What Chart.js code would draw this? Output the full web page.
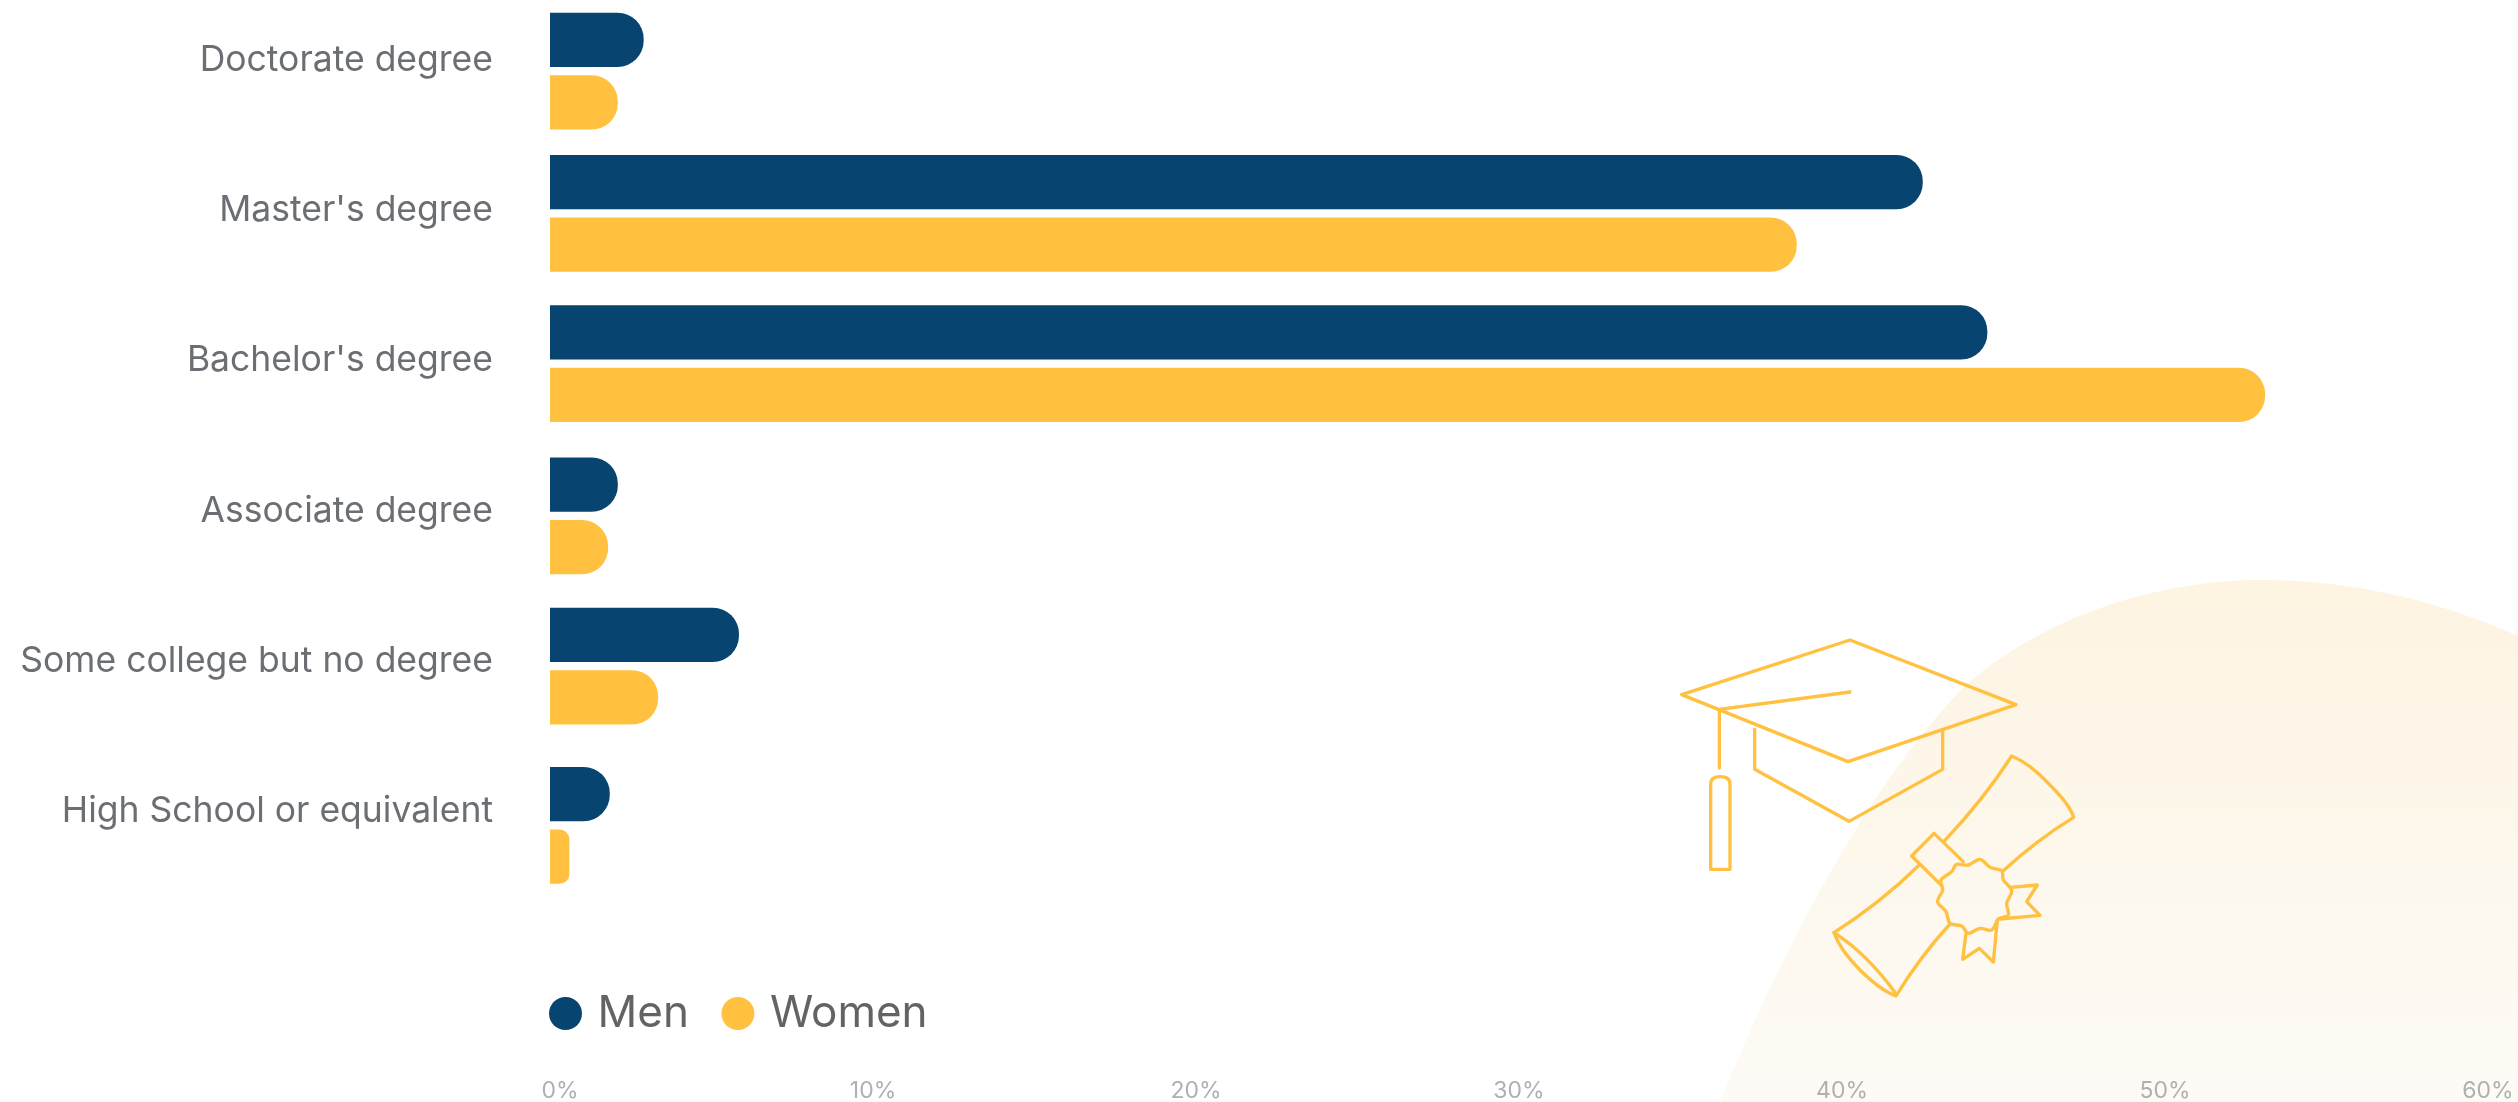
<!DOCTYPE html>
<html>
<head>
<meta charset="utf-8">
<title>Education level by gender</title>
<script src="https://cdn.jsdelivr.net/npm/chart.js@4"></script>
<style>
    html, body { margin: 0; padding: 0; background: #fff; overflow: hidden; }
    #wrap { width: 2518px; height: 1102px; }
</style>
</head>
<body>
<div id="wrap"><canvas id="degreeChart" width="2518" height="1102"></canvas></div>
<script>
const categories = ['Doctorate degree', "Master's degree", "Bachelor's degree", 'Associate degree', 'Some college but no degree', 'High School or equivalent'];
const men = [2.9, 42.5, 44.5, 2.1, 5.85, 1.85];
const women = [2.1, 38.6, 53.1, 1.8, 3.35, 0.6];
const xTicks = [0, 10, 20, 30, 40, 50, 60];

// rows are not evenly spaced, so each group gets a small shift from its slot
const rowShift = [-4, -12, -12, -10, -10, -1];

const navy = '#07446f';
const yellow = '#ffc13f';
const font = 'Inter, sans-serif';

// background hill, cap and diploma
const hill = new Path2D('M1720 1102 C1790 930 1880 770 1968 683 C2060 605 2180 578 2270 580 C2370 582 2450 606 2518 636 L2518 1102 Z');
const capPaths = [
    'M125 224 L630 60 L1128 254 L624 425 Z',
    'M630 216 L238 268 L238 444',
    'M344 328 L344 448 L627 604 L908 448 L908 330',
    'M212 748 L212 492 Q212 470 240 470 Q270 470 270 492 L270 748 Z'
];
const diplomaPaths = [
    'M912 664 Q1030 540 1115 408 Q1170 430 1230 495 Q1290 555 1301 592 Q1190 660 1090 752',
    'M838 735 Q720 850 582 938 Q600 990 660 1050 Q720 1110 768 1128 Q840 1010 930 912',
    'M582 938 Q680 1000 770 1124',
    'M970 725 L882 640 L815 708 L905 797',
    'M1112 802 L1192 795 L1160 845 L1200 886 L1080 897',
    'M978 940 L968 1018 L1018 985 L1060 1026 L1072 900'
];
const sealPoints = [[950, 733], [985, 735], [1020, 718], [1050, 742], [1085, 752], [1090, 780], [1115, 812], [1100, 850], [1105, 885], [1075, 897], [1055, 930], [1020, 925], [985, 940], [965, 918], [930, 910], [918, 875], [893, 845], [908, 810], [903, 780], [935, 755]];

// closed curve through the seal's scalloped edge
function sealPath() {
    const n = sealPoints.length;
    const at = i => sealPoints[(i + n) % n];
    let d = `M${at(0)[0]} ${at(0)[1]}`;
    for (let i = 0; i < n; i++) {
        const [p0, p1, p2, p3] = [at(i - 1), at(i), at(i + 1), at(i + 2)];
        d += ` C${p1[0] + (p2[0] - p0[0]) / 6} ${p1[1] + (p2[1] - p0[1]) / 6} ${p2[0] - (p3[0] - p1[0]) / 6} ${p2[1] - (p3[1] - p1[1]) / 6} ${p2[0]} ${p2[1]}`;
    }
    return d + ' Z';
}

const artwork = {
    id: 'artwork',
    beforeDraw(chart) {
        const ctx = chart.ctx;
        ctx.save();
        const fade = ctx.createLinearGradient(0, 580, 0, 1102);
        fade.addColorStop(0, '#fdf4e2');
        fade.addColorStop(1, '#fdfbf6');
        ctx.fillStyle = fade;
        ctx.fill(hill);

        ctx.translate(1640, 620);
        ctx.scale(1 / 3, 1 / 3);
        ctx.strokeStyle = yellow;
        ctx.lineWidth = 10;
        ctx.lineJoin = 'round';
        ctx.lineCap = 'round';
        capPaths.concat(diplomaPaths, sealPath()).forEach(d => ctx.stroke(new Path2D(d)));
        ctx.restore();
    }
};

const tweaks = {
    id: 'tweaks',
    afterDatasetsUpdate(chart) {
        chart.getSortedVisibleDatasetMetas().forEach(meta => {
            meta.data.forEach((bar, i) => { bar.y += rowShift[i]; });
        });
    },
    afterLayout(chart) {
        // legend sits lower than its layout slot and starts at the bars' left edge
        const legend = chart.legend;
        const padding = legend.options.labels.padding;
        legend.left = chart.chartArea.left + 5.5 - padding;
        legend.top = chart.chartArea.bottom + 51;
        legend.bottom = legend.top + legend.height;
    },
    beforeDraw(chart) {
        // the 0% label sits a little to the right of its tick
        const items = chart.scales.x.getLabelItems();
        if (!items.moved) {
            items[0].options.translation[0] += 10;
            items.moved = true;
        }
    }
};

new Chart(document.getElementById('degreeChart'), {
    type: 'bar',
    data: {
        labels: categories,
        datasets: [
            { label: 'Men', data: men, backgroundColor: navy },
            { label: 'Women', data: women, backgroundColor: yellow }
        ]
    },
    options: {
        indexAxis: 'y',
        responsive: false,
        animation: false,
        categoryPercentage: 126 / 151,
        barPercentage: 54.5 / 63,
        borderRadius: { topRight: 26, bottomRight: 26 },
        borderSkipped: 'left',
        layout: { padding: { top: 0, right: 30, left: 0, bottom: 0 } },
        scales: {
            x: {
                type: 'linear',
                min: 0,
                max: 60,
                weight: 2000,
                grid: { display: false, drawTicks: false },
                border: { display: false },
                afterBuildTicks(scale) { scale.ticks = xTicks.map(value => ({ value })); },
                afterFit(scale) {
                    scale.height = 107.5;
                    scale.paddingLeft = 0;
                    scale.paddingRight = 0;
                },
                ticks: {
                    callback: value => value + '%',
                    color: '#b0b0b0',
                    font: { family: font, size: 23, weight: 400 },
                    padding: 82.5,
                    maxRotation: 0
                }
            },
            y: {
                grid: { display: false, drawTicks: false },
                border: { display: false },
                afterFit(scale) {
                    scale.width = 550;
                    scale.paddingTop = 0;
                    scale.paddingBottom = 0;
                },
                ticks: {
                    color: '#6b6e73',
                    font: { family: font, size: 35.5, weight: 400 },
                    padding: 57,
                    labelOffset: -15,
                    autoSkip: false
                }
            }
        },
        plugins: {
            tooltip: { enabled: false },
            legend: {
                position: 'bottom',
                align: 'start',
                fullSize: false,
                labels: {
                    usePointStyle: true,
                    pointStyle: 'circle',
                    boxWidth: 20,
                    boxHeight: 23.3,
                    color: '#636363',
                    padding: 39,
                    font: { family: font, size: 44, weight: 400 }
                }
            }
        }
    },
    plugins: [artwork, tweaks]
});
</script>
</body>
</html>
